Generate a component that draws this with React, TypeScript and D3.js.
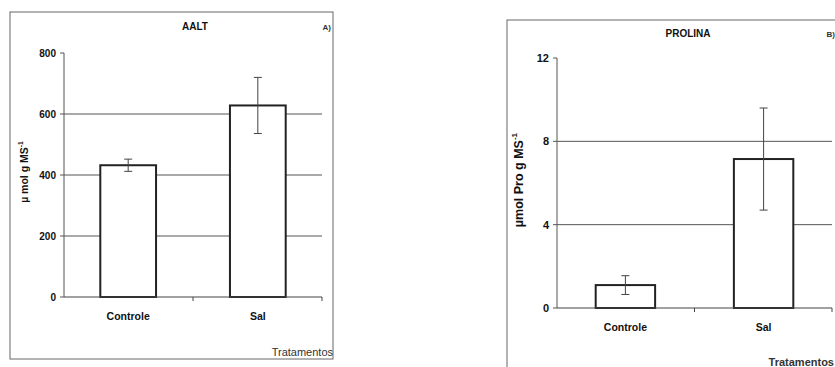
import React from "react";
import * as d3 from "d3";

const categories = ["Controle", "Sal"];
const aaltValues = [432, 628];
const aaltErrors = [20, 92];
const aaltTicks = [0, 200, 400, 600, 800];
const prolinaValues = [1.1, 7.15];
const prolinaErrors = [0.45, 2.45];
const prolinaTicks = [0, 4, 8, 12];

type PanelProps = {
  box: { x0: number; y0: number; x1: number; y1: number };
  title: string;
  titleX: number;
  titleY: number;
  tag: string;
  tagX: number;
  tagY: number;
  axisX: number;
  xEnd: number;
  bandRange: [number, number];
  yTop: number;
  yBottom: number;
  yMax: number;
  ticks: number[];
  grid: number[];
  values: number[];
  errors: number[];
  yLabel: string;
  yLabelX: number;
  yLabelY: number;
  yLabelSize: number;
  xTitleX: number;
  xTitleY: number;
  xTitleWeight: string;
  xLabelY: number;
  tickSize: number;
};

const font = "'Liberation Sans', Arial, sans-serif";

function Panel(p: PanelProps) {
  const y = d3.scaleLinear().domain([0, p.yMax]).range([p.yBottom, p.yTop]);
  const x = d3.scaleBand<string>().domain(categories).range(p.bandRange).paddingInner(0.57).paddingOuter(0.28);
  const bw = x.bandwidth();
  const mid = (p.axisX + p.xEnd) / 2;
  return (
    <g>
      <rect x={p.box.x0} y={p.box.y0} width={p.box.x1 - p.box.x0} height={p.box.y1 - p.box.y0} fill="none" stroke="#666" strokeWidth={1} />
      <text x={p.titleX} y={p.titleY} textAnchor="middle" fontFamily={font} fontWeight="bold" fontSize={10} fill="#111">{p.title}</text>
      <text x={p.tagX} y={p.tagY} textAnchor="end" fontFamily={font} fontWeight="bold" fontSize={8} fill="#333">{p.tag}</text>
      {p.grid.map((g) => (
        <line key={g} x1={p.axisX} x2={p.xEnd} y1={y(g)} y2={y(g)} stroke="#555" strokeWidth={1} />
      ))}
      <line x1={p.axisX} x2={p.axisX} y1={y(p.yMax)} y2={y(0)} stroke="#555" strokeWidth={1} />
      {p.ticks.map((t) => (
        <g key={t}>
          <line x1={p.axisX - 4} x2={p.axisX} y1={y(t)} y2={y(t)} stroke="#555" />
          <text x={p.axisX - 8} y={y(t)} dy="0.35em" textAnchor="end" fontFamily={font} fontWeight="bold" fontSize={p.tickSize} fill="#111">{t}</text>
        </g>
      ))}
      {categories.map((c, i) => (
        <g key={c}>
          <rect x={x(c)!} y={y(p.values[i])} width={bw} height={y(0) - y(p.values[i])} fill="#fff" stroke="#222" strokeWidth={2} />
          <line x1={x(c)! + bw / 2} x2={x(c)! + bw / 2} y1={y(p.values[i] + p.errors[i])} y2={y(p.values[i] - p.errors[i])} stroke="#444" strokeWidth={1} />
          <line x1={x(c)! + bw / 2 - 4} x2={x(c)! + bw / 2 + 4} y1={y(p.values[i] + p.errors[i])} y2={y(p.values[i] + p.errors[i])} stroke="#444" strokeWidth={1} />
          <line x1={x(c)! + bw / 2 - 4} x2={x(c)! + bw / 2 + 4} y1={y(p.values[i] - p.errors[i])} y2={y(p.values[i] - p.errors[i])} stroke="#444" strokeWidth={1} />
          <text x={x(c)! + bw / 2} y={p.xLabelY} textAnchor="middle" fontFamily={font} fontWeight="bold" fontSize={10.5} fill="#111">{c}</text>
        </g>
      ))}
      <line x1={p.axisX} x2={p.xEnd} y1={y(0)} y2={y(0)} stroke="#444" strokeWidth={1.2} />
      <line x1={mid} x2={mid} y1={y(0)} y2={y(0) + 4} stroke="#444" />
      <line x1={p.xEnd} x2={p.xEnd} y1={y(0)} y2={y(0) + 4} stroke="#444" />
      <text transform={`translate(${p.yLabelX},${p.yLabelY}) rotate(-90)`} textAnchor="middle" fontFamily={font} fontWeight="bold" fontSize={p.yLabelSize} fill="#111">
        {p.yLabel}
        <tspan dy={-p.yLabelSize * 0.45} fontSize={p.yLabelSize * 0.65}>-1</tspan>
      </text>
      <text x={p.xTitleX} y={p.xTitleY} textAnchor="end" fontFamily={font} fontSize={11} fontWeight={p.xTitleWeight} fill="#333">Tratamentos</text>
    </g>
  );
}

export default function App() {
  return (
    <svg width={835} height={367} style={{ position: "absolute", left: 0, top: 0, background: "#fff" }}>
      <rect width={835} height={367} fill="#fff" />
      <Panel
        box={{ x0: 10, y0: 12, x1: 333, y1: 359 }}
        title="AALT" titleX={195} titleY={30}
        tag="A)" tagX={331} tagY={30}
        axisX={64} xEnd={322} bandRange={[64, 322]}
        yTop={53} yBottom={297} yMax={800}
        ticks={aaltTicks} grid={[200, 400, 600]}
        values={aaltValues} errors={aaltErrors}
        yLabel="µ mol g MS" yLabelX={28} yLabelY={172} yLabelSize={10.5}
        xTitleX={333} xTitleY={356} xTitleWeight="normal" xLabelY={320}
        tickSize={10}
      />
      <Panel
        box={{ x0: 507, y0: 20, x1: 845, y1: 380 }}
        title="PROLINA" titleX={688} titleY={37}
        tag="B)" tagX={835} tagY={37}
        axisX={557} xEnd={832} bandRange={[557, 832]}
        yTop={58} yBottom={308} yMax={12}
        ticks={prolinaTicks} grid={[4, 8]}
        values={prolinaValues} errors={prolinaErrors}
        yLabel="µmol Pro g MS" yLabelX={523} yLabelY={180} yLabelSize={12.5}
        xTitleX={834} xTitleY={366} xTitleWeight="bold" xLabelY={331}
        tickSize={11}
      />
    </svg>
  );
}
